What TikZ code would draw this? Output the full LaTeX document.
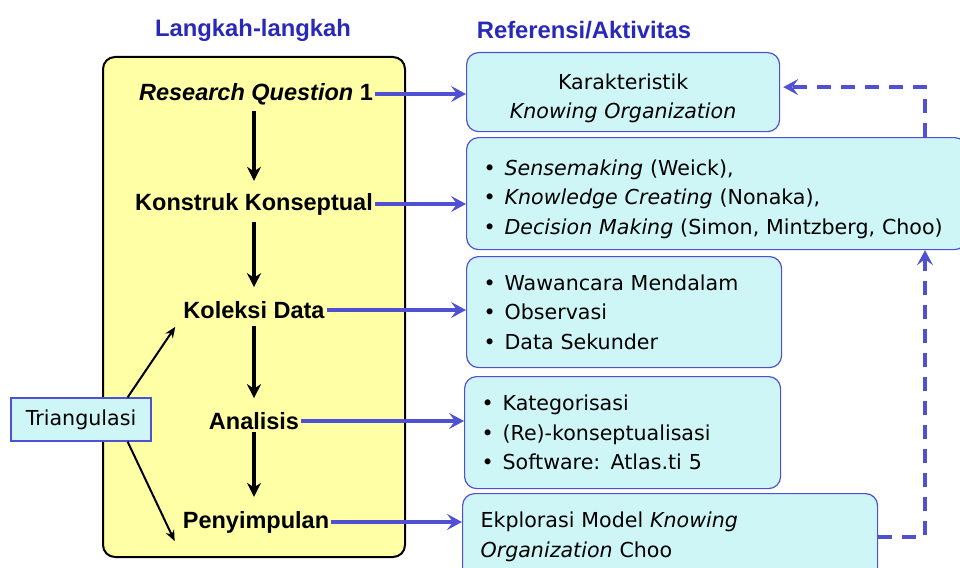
\documentclass[tikz,border=0pt]{standalone}
\usepackage{fontspec}
\setmainfont{DejaVu Sans}
\newfontfamily\headfont{Liberation Sans}
\usetikzlibrary{arrows.meta}
\definecolor{stepyellow}{RGB}{255,255,165}
\definecolor{refcyan}{RGB}{206,246,246}
\definecolor{refblue}{RGB}{80,80,210}
\definecolor{headblue}{RGB}{40,40,185}
\newcommand{\itm}{\makebox[21pt][l]{\textbullet}}

\begin{document}
\begin{tikzpicture}[x=1pt, y=-1pt,
    heading/.style={font=\headfont\bfseries\fontsize{23.8}{27}\selectfont, text=headblue},
    stage/.style={font=\headfont\bfseries\fontsize{23.5}{27}\selectfont, inner sep=2pt},
    refbox/.style={draw=refblue, fill=refcyan, rounded corners=12pt, line width=1.2pt,
        anchor=north west, inner xsep=17pt, inner ysep=0pt, align=left,
        font=\fontsize{20.6}{29.5}\selectfont},
    flow/.style={-{Stealth[length=14pt,width=14pt]}, line width=3.2pt},
    side/.style={-{Stealth[length=11pt,width=9pt]}, line width=2pt},
    link/.style={-{Stealth[length=15pt,width=16pt,inset=6pt]}, refblue, line width=3.6pt},
    dashlink/.style={-{Stealth[length=15pt,width=16pt,inset=6pt]}, refblue, line width=4pt,
        dash pattern=on 14pt off 10pt}]
    \useasboundingbox (0,0) rectangle (960,567);

    % column headings
    \node[heading] (hstep) at (253,30) {Langkah-langkah};
    \node[heading] (href) at (584,30) {Referensi/Aktivitas};

    % steps
    \draw[fill=stepyellow, rounded corners=12pt, line width=2pt] (103,57) rectangle (405,557);
    \node[stage] (rq) at (256,94) {\itshape Research Question\/ \upshape 1};
    \node[stage] (kons) at (254,204) {Konstruk Konseptual};
    \node[stage] (kol) at (254,310) {Koleksi Data};
    \node[stage] (anl) at (254,421) {Analisis};
    \node[stage] (peny) at (256,522) {Penyimpulan};
    \draw[flow, shorten <=4pt, shorten >=10pt] (rq.south -| kons) -- (kons);
    \draw[flow, shorten <=5pt, shorten >=12pt] (kons) -- (kol);
    \draw[flow, shorten <=5pt, shorten >=12pt] (kol) -- (anl);
    \draw[flow, shorten >=12pt] (anl.south) -- (anl.south |- peny.north);

    \node[draw=refblue, fill=refcyan, line width=1.2pt, minimum width=140pt, minimum height=43pt,
        font=\fontsize{20.6}{24}\selectfont] (tri) at (81,419.5) {Triangulasi};
    \draw[side] ([xshift=-24pt]tri.north east) -- ([xshift=-6pt,yshift=-6pt]kol.south west);
    \draw[side] ([xshift=-24pt]tri.south east) -- ([xshift=-6pt,yshift=-6pt]peny.south west);

    % references
    \node[refbox, align=center, minimum width=313pt, minimum height=79pt] (karak) at (466,52)
        {\strut\\[-22pt]Karakteristik\\\itshape Knowing Organization};
    \node[refbox, text width=466pt, minimum height=112pt] (teori) at (466,137)
        {\strut\\[-24pt]\itm\textit{Sensemaking} (Weick),\\
         \itm\textit{Knowledge Creating} (Nonaka),\\
         \itm\textit{Decision Making} (Simon, Mintzberg, Choo)};
    \node[refbox, text width=281pt, minimum height=111pt] (data) at (466,256)
        {\itm Wawancara Mendalam\\\itm Observasi\\\itm Data Sekunder};
    \node[refbox, text width=282pt, minimum height=112pt] (olah) at (464,376)
        {\itm Kategorisasi\\\itm (Re)-konseptualisasi\\\itm Software: Atlas.ti 5};
    \node[refbox, inner xsep=18pt, text width=379pt, minimum height=86pt] (ekspl) at (462,493)
        {Ekplorasi Model \textit{Knowing}\\\textit{Organization} Choo};

    \draw[link] (rq) -- (rq -| karak.west);
    \draw[link] (kons) -- (kons -| teori.west);
    \draw[link] (kol) -- (kol -| data.west);
    \draw[link] (anl) -- (anl -| olah.west);
    \draw[link] (peny) -- (peny -| ekspl.west);

    \coordinate (rail) at (925,0);
    \draw[dashlink] (ekspl.east) -| (teori.south -| rail);
    \draw[dashlink] (teori.north -| rail) |- ([yshift=5pt,xshift=3pt]karak.east);
\end{tikzpicture}
\end{document}
